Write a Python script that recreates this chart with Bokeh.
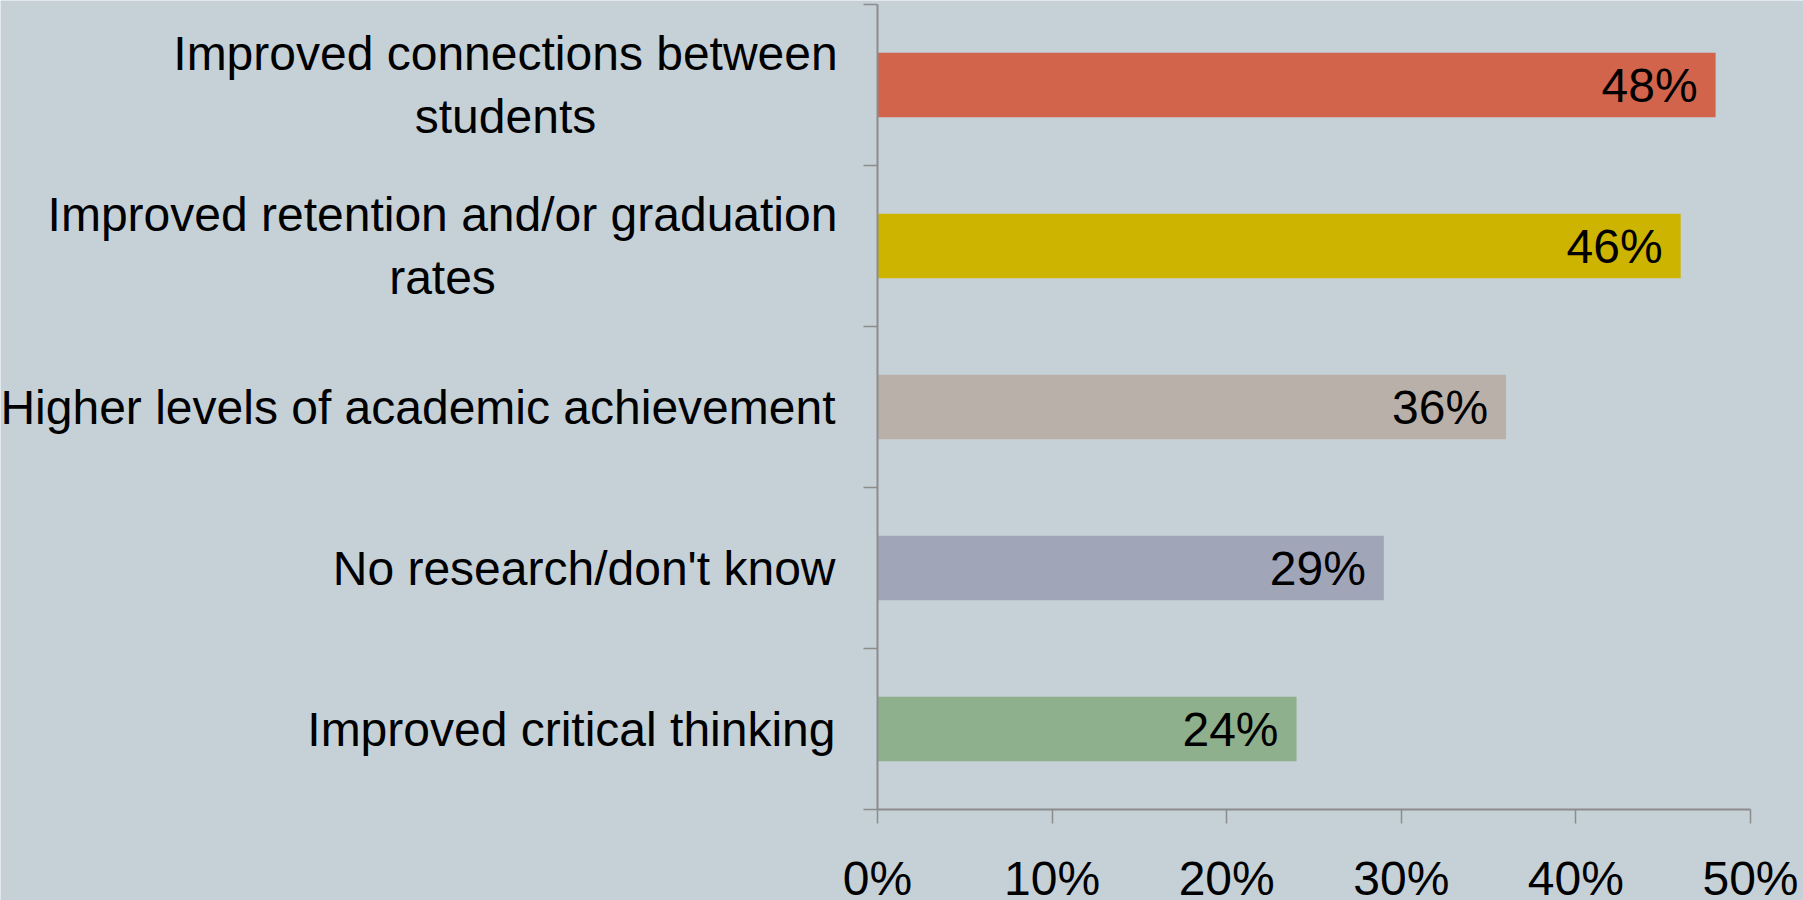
from bokeh.plotting import figure
from bokeh.models import (Range1d, FixedTicker, NumeralTickFormatter, ColumnDataSource,
                          LabelSet, Label)
from bokeh.core.properties import value
from bokeh.embed import file_html
from bokeh.resources import INLINE

categories = [
    "Improved connections between\nstudents",
    "Improved retention and/or graduation\nrates",
    "Higher levels of academic achievement",
    "No research/don't know",
    "Improved critical thinking",
]
values = [48, 46, 36, 29, 24]
colors = ["#D2644B", "#CDB400", "#BAB0AA", "#A0A5B8", "#8FB08C"]
x_ticks = [0, 10, 20, 30, 40, 50]

BG = "#C5D1D7"
FONT = "Liberation Sans, Arial, sans-serif"
n = len(categories)
ys = [n - i - 0.5 for i in range(n)]

src = ColumnDataSource(dict(
    y=ys,
    right=[v / 100 for v in values],
    color=colors,
    label=[f"{v}%" for v in values],
))

W, H = 1803, 900
# frame fills the canvas; x=0 at 877px, x=0.5 at 1750px; y=0 at 809px, y=5 at 4px
X0, X1, Y0, Y1 = 877, 1750, 809, 4
x_px = (X1 - X0) / 0.5
y_px = (Y0 - Y1) / n
p = figure(width=W, height=H, output_backend="svg", toolbar_location=None,
           x_range=Range1d(-X0 / x_px, 0.5 + (W - X1) / x_px),
           y_range=Range1d(-(H - Y0) / y_px, n + Y1 / y_px),
           min_border=0)
p.background_fill_color = BG
p.border_fill_color = BG
p.outline_line_color = None
p.xgrid.visible = False
p.ygrid.visible = False

p.hbar(y="y", left=0, right="right", height=0.4, color="color", line_color=None, source=src)

labels = LabelSet(x="right", y="y", text="label", source=src, x_offset=-18,
                  text_align="right", text_baseline="middle",
                  text_font=value(FONT), text_font_size=value("48px"), text_color="black")
p.add_layout(labels)

# x axis
xa = p.xaxis[0]
xa.ticker = FixedTicker(ticks=[t / 100 for t in x_ticks], minor_ticks=[])
xa.formatter = NumeralTickFormatter(format="0%")
xa.fixed_location = 0
xa.bounds = (0, max(x_ticks) / 100)
xa.axis_line_color = "#8C8C8C"
xa.axis_line_width = 2
xa.major_tick_line_color = "#8C8C8C"
xa.major_tick_line_width = 1.5
xa.major_tick_in = 0
xa.major_tick_out = 14
xa.minor_tick_line_color = None
xa.major_label_text_font = FONT
xa.major_label_text_font_size = "48px"
xa.major_label_text_color = "black"
xa.major_label_standoff = 28

# y axis: boundary ticks only
ya = p.yaxis[0]
ya.ticker = FixedTicker(ticks=[], minor_ticks=list(range(n + 1)))
ya.fixed_location = 0
ya.bounds = (0, n)
ya.axis_line_color = "#8C8C8C"
ya.axis_line_width = 2
ya.minor_tick_line_color = "#8C8C8C"
ya.minor_tick_line_width = 1.5
ya.minor_tick_in = 0
ya.minor_tick_out = 14
ya.major_tick_line_color = None
ya.major_label_text_font_size = "0px"

# category labels
anchors = [("center", -372), ("center", -435), ("right", -42), ("right", -42), ("right", -42)]
for cat, y, (align, dx) in zip(categories, ys, anchors):
    p.add_layout(Label(x=0, y=y, x_offset=dx, text=cat,
                       text_align=align, text_baseline="middle",
                       text_font=FONT, text_font_size="48px", text_color="black",
                       text_line_height=1.2))

open("out.html", "w").write(file_html(p, INLINE))
